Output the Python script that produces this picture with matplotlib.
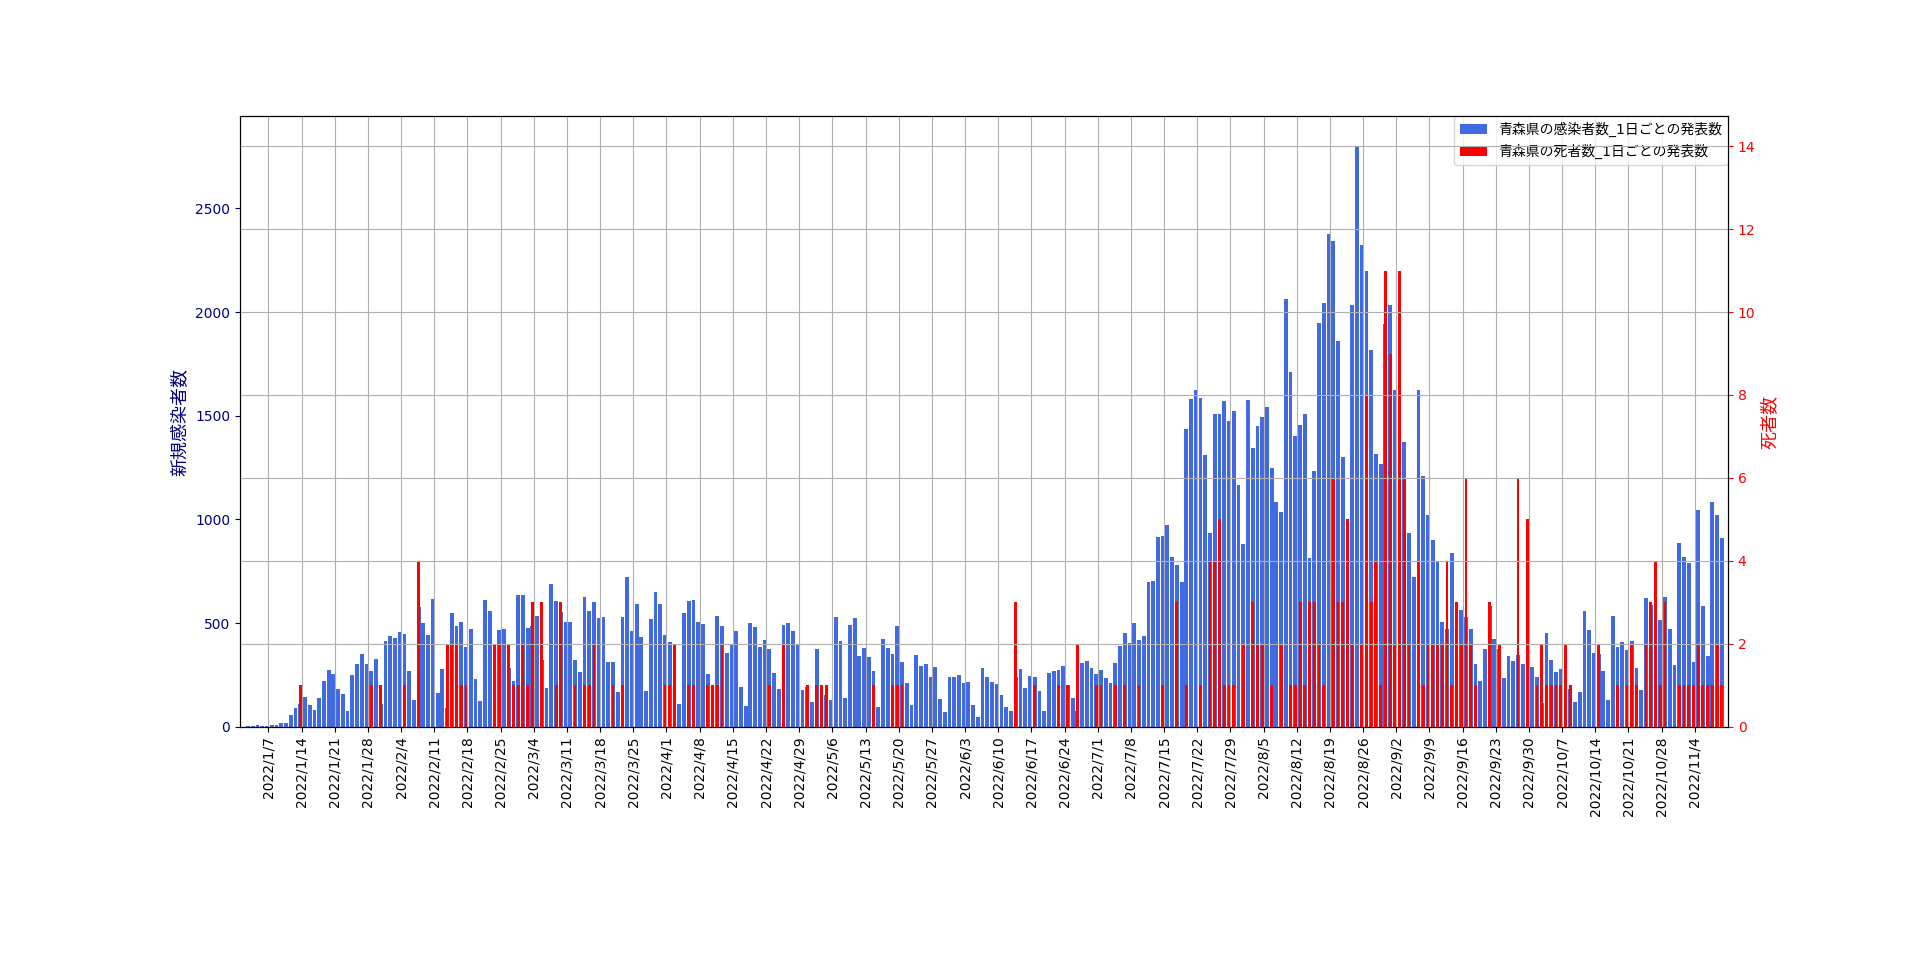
import pandas as pd
import matplotlib
matplotlib.use('Agg')
import matplotlib.pyplot as plt
import matplotlib.dates as mdates

plt.rcParams['font.family'] = ['DejaVu Sans', 'Noto Sans CJK JP']

# daily new cases (from 2022/1/1)
cases_jan = [0, 5, 5, 10, 5, 5, 10, 10, 19, 19, 58, 92, 110, 145, 106, 82, 140, 222, 275, 256,
             183, 159, 77, 251, 304, 352, 304, 270, 328, 111, 415]
cases_feb = [439, 429, 458, 449, 270, 130, 579, 502, 444, 618, 164, 280, 92, 550, 487, 507, 386, 473,
             229, 125, 613, 560, 222, 468, 473, 285, 222, 637]
cases_mar = [637, 478, 487, 535, 323, 188, 690, 608, 551, 506, 506, 323, 265, 627, 560, 603, 526, 531,
             314, 314, 169, 531, 724, 463, 593, 434, 174, 521, 651, 593, 444]
cases_apr = [410, 280, 111, 550, 608, 613, 506, 497, 256, 183, 535, 487, 357, 396, 463, 193, 101, 502,
             482, 386, 420, 376, 260, 183, 492, 502, 463, 396, 178, 193]
cases_may = [121, 376, 183, 154, 130, 531, 415, 140, 492, 526, 343, 381, 338, 270, 96, 424, 381, 352,
             487, 314, 212, 106, 347, 294, 304, 241, 289, 135, 72, 241, 241]
cases_jun = [251, 212, 217, 106, 48, 285, 241, 217, 207, 154, 96, 77, 241, 280, 188, 246, 241, 174,
             77, 260, 270, 275, 294, 200, 140, 77, 309, 318, 285, 256]
cases_jul = [275, 236, 212, 309, 391, 453, 405, 502, 420, 439, 699, 704, 915, 920, 972, 819, 780, 698,
             1434, 1579, 1623, 1585, 1309, 933, 1507, 1507, 1570, 1473, 1522, 1166, 880]
cases_aug = [1575, 1343, 1450, 1494, 1541, 1248, 1084, 1034, 2061, 1711, 1402, 1453, 1507, 813, 1233,
             1945, 2042, 2374, 2341, 1859, 1299, 941, 2033, 2800, 2324, 2196, 1815, 1314, 1267, 1943, 2036]
cases_sep = [1623, 1444, 1372, 933, 722, 1623, 1208, 1021, 901, 796, 505, 469, 838, 594, 564, 530,
             470, 303, 221, 375, 583, 423, 375, 234, 341, 318, 347, 303, 238, 286]
cases_oct = [238, 113, 450, 320, 262, 277, 262, 180, 117, 166, 557, 465, 354, 349, 267, 127, 533, 383,
             407, 368, 412, 282, 175, 619, 586, 533, 513, 624, 470, 296, 885]
cases_nov = [817, 788, 311, 1044, 581, 340, 1083, 1020, 909]

# daily deaths (from 2022/1/1)
deaths_jan = [0, 0, 0, 0, 0, 0, 0, 0, 0, 0, 0, 0, 0, 1, 0, 0, 0, 0, 0, 0, 0, 0, 0, 0, 0, 0, 0, 0, 1, 0, 1]
deaths_feb = [0, 0, 0, 0, 1, 0, 0, 4, 0, 0, 0, 0, 0, 2, 2, 2, 1, 1, 0, 0, 0, 0, 0, 2, 2, 0, 2, 1]
deaths_mar = [1, 2, 1, 3, 0, 3, 0, 0, 1, 3, 0, 0, 1, 0, 1, 1, 2, 0, 0, 0, 1, 0, 1, 0, 0, 0, 0, 0, 0, 0, 0]
deaths_apr = [1, 1, 2, 0, 0, 1, 1, 0, 0, 1, 1, 1, 2, 0, 0, 0, 0, 0, 0, 0, 0, 0, 1, 0, 0, 2, 0, 0, 0, 0]
deaths_may = [1, 0, 1, 1, 1, 0, 0, 0, 0, 0, 0, 0, 0, 0, 1, 0, 0, 0, 1, 1, 1, 0, 0, 0, 0, 0, 0, 0, 0, 0, 0]
deaths_jun = [0, 0, 0, 0, 0, 0, 0, 0, 0, 0, 0, 0, 0, 3, 0, 0, 0, 1, 0, 0, 0, 0, 1, 0, 1, 0, 2, 0, 0, 0]
deaths_jul = [1, 1, 0, 0, 1, 0, 1, 0, 0, 1, 0, 0, 0, 0, 1, 0, 0, 3, 0, 1, 0, 0, 1, 0, 4, 4, 5, 1, 1, 1, 0]
deaths_aug = [2, 0, 3, 2, 2, 0, 1, 0, 2, 0, 1, 1, 3, 1, 3, 3, 2, 1, 0, 6, 3, 3, 5, 2, 0, 2, 8, 3, 4, 1, 11]
deaths_sep = [9, 2, 11, 6, 2, 0, 4, 1, 2, 2, 2, 2, 4, 1, 3, 2, 6, 2, 1, 0, 0, 3, 0, 2, 0, 0, 0, 6, 0, 5]
deaths_oct = [0, 1, 2, 1, 1, 1, 1, 2, 1, 0, 0, 0, 0, 0, 2, 0, 0, 0, 1, 0, 1, 2, 1, 0, 2, 3, 4, 1, 3, 0, 0]
deaths_nov = [1, 1, 1, 1, 2, 1, 1, 1, 2, 1]

cases = (cases_jan + cases_feb + cases_mar + cases_apr + cases_may + cases_jun
         + cases_jul + cases_aug + cases_sep + cases_oct + cases_nov)
deaths = (deaths_jan + deaths_feb + deaths_mar + deaths_apr + deaths_may + deaths_jun
          + deaths_jul + deaths_aug + deaths_sep + deaths_oct + deaths_nov)

case_dates = pd.date_range('2022-01-01', periods=len(cases))
death_dates = pd.date_range('2022-01-01', periods=len(deaths))
tick_dates = pd.date_range('2022-01-07', '2022-11-04', freq='7D')

fig, ax = plt.subplots(figsize=(19.2, 9.69), dpi=100)
fig.subplots_adjust(left=0.125, right=0.9, top=0.88, bottom=0.25)
ax2 = ax.twinx()

b1 = ax.bar(mdates.date2num(case_dates) + 0.7, cases, width=0.8, color='royalblue')
b2 = ax2.bar(mdates.date2num(death_dates) - 0.3, deaths, width=0.6, color='red')

ax.set_xlim(mdates.date2num(pd.Timestamp('2022-01-01')), mdates.date2num(pd.Timestamp('2022-11-11')))
ax.set_ylim(0, 2944)
ax2.set_ylim(0, 14.72)

ax.set_xticks(mdates.date2num(tick_dates))
ax.set_xticklabels([f'{t.year}/{t.month}/{t.day}' for t in tick_dates], rotation=90)

ax.grid(True, axis='x')
ax2.grid(True, axis='y')

ax.set_ylabel('新規感染者数', color='navy', fontsize=13)
ax.tick_params(axis='y', colors='navy')
ax2.set_ylabel('死者数', color='red', fontsize=13)
ax2.tick_params(axis='y', colors='red')

ax.legend([b1, b2], ['青森県の感染者数_1日ごとの発表数', '青森県の死者数_1日ごとの発表数'],
          loc='upper right', borderaxespad=0)

fig.savefig('out.png')
